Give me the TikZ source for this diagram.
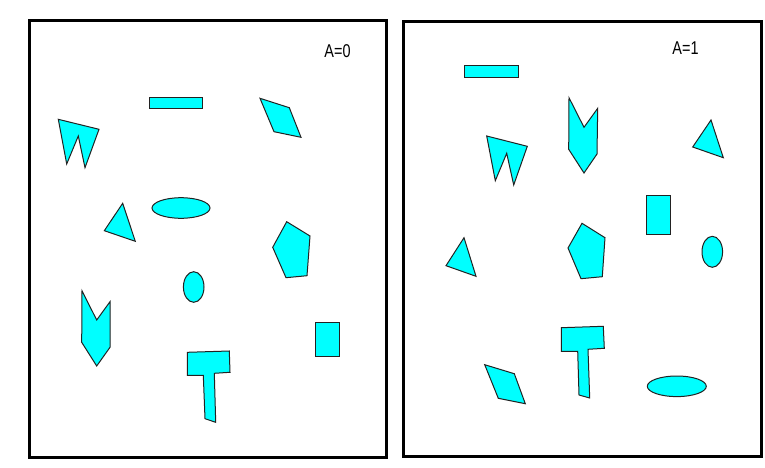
\documentclass[tikz,border=0pt]{standalone}
\usepackage{fontspec}
\usepackage{tikz}
\newfontfamily\panelfont[FakeStretch=0.78]{Liberation Sans}
\definecolor{pieceCyan}{HTML}{00FFFF}
\definecolor{pieceEdge}{HTML}{222222}

\begin{document}
\begin{tikzpicture}[x=1pt,y=-1pt,
    panel/.style={draw=black,line width=3pt},
    piece/.style={draw=pieceEdge,fill=pieceCyan,line width=1pt,line join=miter},
    tag/.style={font=\panelfont\fontsize{18.5}{20}\selectfont,inner sep=0pt}]
  \useasboundingbox (0,0) rectangle (765,468);
  % frames
  \draw[panel] (29,21) rectangle (386,457);
  \draw[panel] (403,22) rectangle (761,456);
  \node[tag] (tagA) at (337.5,51) {A=0};
  \node[tag] (tagB) at (685.5,48.5) {A=1};

  % left panel, A=0
  \draw[piece] (149,97.3) rectangle (202.7,108.7);
  \draw[piece] (58.3,119.3) -- (99,129.3) -- (85,167.7) -- (78.3,136) -- (66.7,164) -- cycle;
  \draw[piece] (260,98.3) -- (289.3,107.7) -- (301,137.3) -- (274,131.7) -- cycle;
  \draw[piece] (181,208) ellipse [x radius=29,y radius=10.3];
  \draw[piece] (122.7,203.3) -- (135.3,241.3) -- (104.3,230.7) -- cycle;
  \draw[piece] (286.7,221.7) -- (310,236) -- (307,275.7) -- (286,277.7) -- (272.7,247.3) -- cycle;
  \draw[piece] (193.7,287) ellipse [x radius=10.3,y radius=15.3];
  \draw[piece] (82,290.7) -- (96.7,320) -- (110,301.7) -- (110,347.3) -- (96.7,366) -- (81.7,342.3) -- cycle;
  \draw[piece] (315,322.7) rectangle (339.3,356.7);
  \draw[piece] (187.3,352.3) -- (229.3,351) -- (230,372.3) -- (214.3,373.3) -- (215.7,422.3)
               -- (205,418.7) -- (203.3,375.3) -- (187.3,375.3) -- cycle;

  % right panel, A=1
  \draw[piece] (464.3,65.7) rectangle (518,77.7);
  \draw[piece] (569,97.7) -- (584,127.3) -- (597.7,108.3) -- (597,154) -- (584,173) -- (568.7,149.3) -- cycle;
  \draw[piece] (486.7,136) -- (527.3,146.3) -- (513.7,185) -- (506.7,153.3) -- (495.3,180.7) -- cycle;
  \draw[piece] (711,120) -- (723.3,157.7) -- (692.7,147) -- cycle;
  \draw[piece] (646.7,195) rectangle (670.7,234.3);
  \draw[piece] (582,223.3) -- (605,237.7) -- (602.3,276.7) -- (581,278.7) -- (568,248) -- cycle;
  \draw[piece] (712.3,251.8) ellipse [x radius=10.3,y radius=15.5];
  \draw[piece] (464,237.7) -- (476,276.3) -- (446,265.7) -- cycle;
  \draw[piece] (561.3,327.7) -- (603.3,326.3) -- (604.3,348.3) -- (588,349.3) -- (589.7,398)
               -- (579,395) -- (577.7,351.3) -- (561.3,351.3) -- cycle;
  \draw[piece] (484.7,364.7) -- (514.3,373.7) -- (525.3,403.7) -- (498.3,398.3) -- cycle;
  \draw[piece] (676.8,386.3) ellipse [x radius=29.5,y radius=10.3];
\end{tikzpicture}
\end{document}
